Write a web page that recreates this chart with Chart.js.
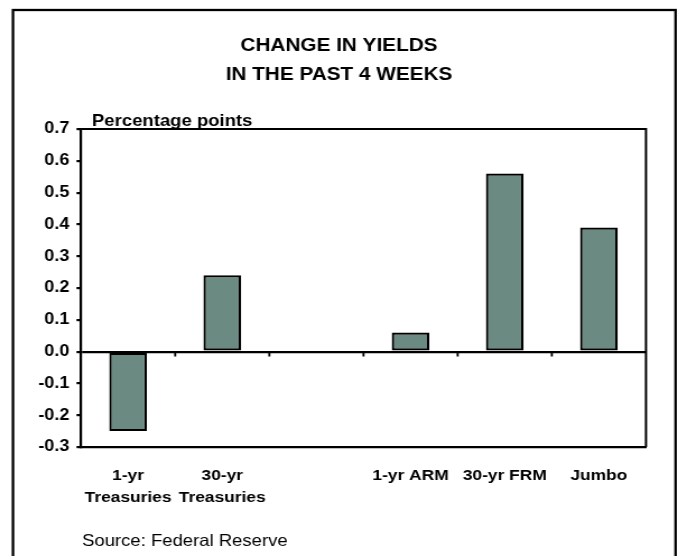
<!DOCTYPE html>
<html>
<head>
<meta charset="utf-8">
<script src="https://cdn.jsdelivr.net/npm/chart.js@4"></script>
<style>
  html, body { margin: 0; padding: 0; background: #fff; overflow: hidden; }
  /* chart is laid out on a narrower canvas and widened to the full page */
  #wrap { width: 605px; height: 556px; transform: scaleX(1.1207); transform-origin: 0 0; }
</style>
</head>
<body>
<div id="wrap"><canvas id="c"></canvas></div>
<script>
const categories = [
  ['1-yr', 'Treasuries'],
  ['30-yr', 'Treasuries'],
  '',
  '1-yr ARM',
  '30-yr FRM',
  'Jumbo'
];
const yieldChange = [-0.25, 0.24, null, 0.06, 0.56, 0.39];
const titleLines = ['CHANGE IN YIELDS', 'IN THE PAST 4 WEEKS'];
const unitLabel = 'Percentage points';
const sourceNote = 'Source: Federal Reserve';

const FONT = '"Liberation Sans", Arial, Helvetica, sans-serif';

// frame, title, unit label, source line, plot box and category ticks
const decorations = {
  id: 'decorations',
  beforeDraw(chart) {
    const ctx = chart.ctx;
    ctx.save();
    ctx.fillStyle = '#fff';
    ctx.fillRect(0, 0, chart.width, chart.height);
    ctx.strokeStyle = '#000';
    ctx.lineWidth = 2.3;
    ctx.strokeRect(11.6, 10, chart.width - 11.6 - 2.2, chart.height + 20);
    ctx.restore();
  },
  afterDraw(chart) {
    const ctx = chart.ctx;
    const area = chart.chartArea;
    const x = chart.scales.x;
    const y = chart.scales.y;
    ctx.save();
    ctx.fillStyle = '#000';
    ctx.textBaseline = 'alphabetic';
    ctx.textAlign = 'center';
    ctx.font = 'bold 18.5px ' + FONT;
    ctx.fillText(titleLines[0], chart.width / 2, 51);
    ctx.fillText(titleLines[1], chart.width / 2, 79.5);
    ctx.textAlign = 'left';
    ctx.font = 'bold 16.5px ' + FONT;
    ctx.fillText(unitLabel, 82.1, 126);
    ctx.font = '16.5px ' + FONT;
    ctx.fillText(sourceNote, 73.2, 545.5);

    // plot box (top and right edges)
    ctx.strokeStyle = '#000';
    ctx.lineWidth = 2;
    ctx.beginPath();
    ctx.moveTo(area.left, area.top);
    ctx.lineTo(area.right, area.top);
    ctx.lineTo(area.right, area.bottom);
    ctx.stroke();

    // category boundary ticks hanging below the zero line
    const zero = y.getPixelForValue(0);
    ctx.lineWidth = 1.8;
    ctx.beginPath();
    for (let i = 1; i < categories.length; i++) {
      const px = x.getPixelForValue(i - 0.5);
      ctx.moveTo(px, zero);
      ctx.lineTo(px, zero + 5);
    }
    ctx.stroke();
    ctx.restore();
  }
};

new Chart(document.getElementById('c'), {
  type: 'bar',
  data: {
    labels: categories,
    datasets: [{
      data: yieldChange,
      backgroundColor: '#6b8a82',
      borderColor: '#000',
      borderWidth: 2.2,
      borderSkipped: false,
      categoryPercentage: 1,
      barPercentage: 0.4
    }]
  },
  options: {
    responsive: true,
    maintainAspectRatio: false,
    animation: false,
    layout: { padding: { top: 129, right: 28.6, left: 0, bottom: 0 } },
    plugins: { legend: { display: false }, tooltip: { enabled: false } },
    scales: {
      x: {
        grid: { display: false, drawTicks: false },
        border: { display: true, color: '#000', width: 2.2 },
        ticks: {
          color: '#000',
          font: { family: FONT, size: 15.5, weight: 'bold', lineHeight: 1.39 },
          padding: 18,
          maxRotation: 0,
          autoSkip: false
        },
        afterFit(scale) { scale.height = 109; }
      },
      y: {
        min: -0.3,
        max: 0.7,
        grid: {
          drawOnChartArea: true,
          color: (c) => (c.tick && Math.abs(c.tick.value) < 1e-9 ? '#000' : 'rgba(0,0,0,0)'),
          tickColor: '#000',
          tickLength: 4,
          lineWidth: 2.2
        },
        border: { display: true, color: '#000', width: 2.2 },
        ticks: {
          stepSize: 0.1,
          color: '#000',
          padding: 6.5,
          font: { family: FONT, size: 16, weight: 'bold' },
          callback: (v) => Number(v).toFixed(1)
        },
        afterFit(scale) { scale.width = 72.3; }
      }
    }
  },
  plugins: [decorations]
});
</script>
</body>
</html>
